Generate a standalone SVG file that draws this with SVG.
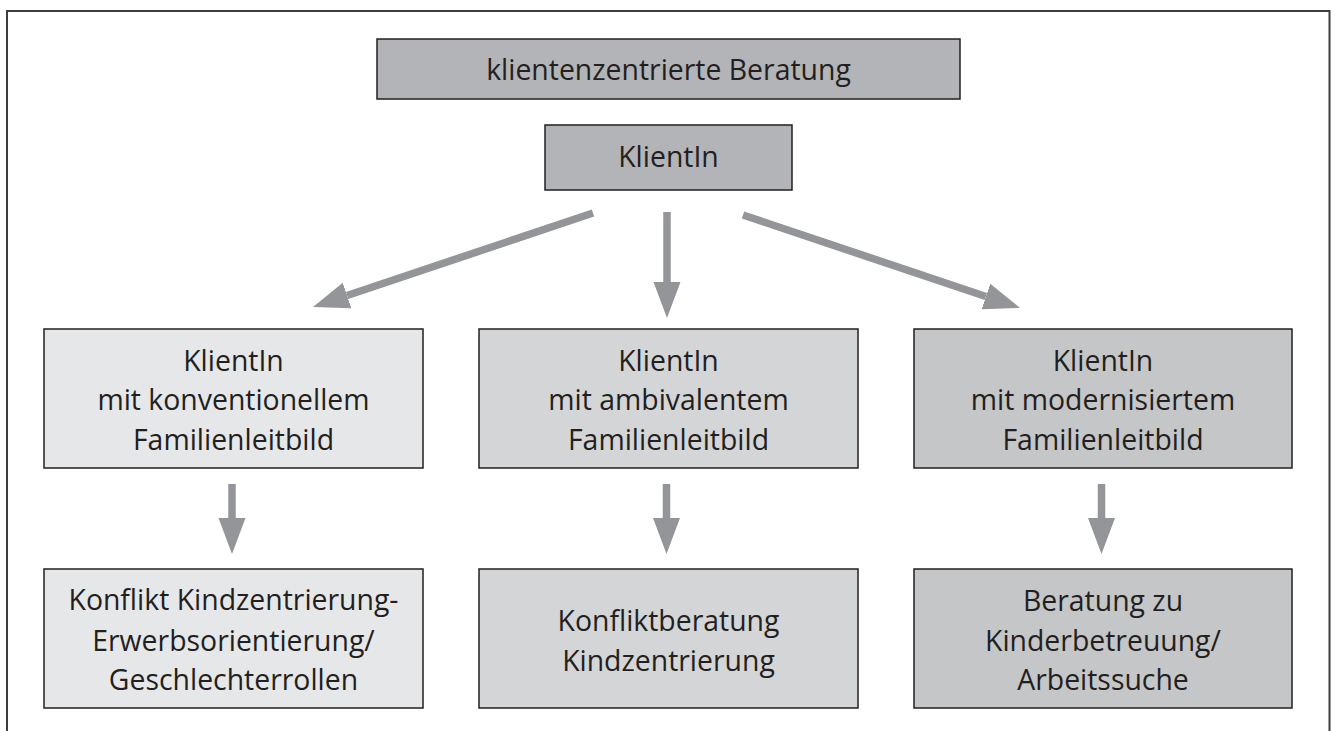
<svg xmlns="http://www.w3.org/2000/svg" width="1335" height="731" viewBox="0 0 1335 731">
<style>
  .box { stroke: #231f20; stroke-width: 1.5; }
  .dark { fill: #b3b4b7; }
  .c1 { fill: #e6e7e8; }
  .c2 { fill: #d4d5d7; }
  .c3 { fill: #c5c6c8; }
  text { font-family: "Open Sans", "Liberation Sans", sans-serif; font-size: 28.4px; fill: #231f20; text-anchor: middle; }
  .arrow { stroke: #939598; stroke-width: 7.5; fill: none; marker-end: url(#head); }
  .frame { stroke: #3d3d3f; stroke-width: 2; fill: none; }
</style>
<defs>
  <marker id="head" markerUnits="userSpaceOnUse" markerWidth="40" markerHeight="30" refX="0" refY="13.5" orient="auto" viewBox="0 0 40 30">
    <path d="M0,0 L36,13.5 L0,27 z" fill="#939598"/>
  </marker>
</defs>
<path class="frame" d="M7,731 V11 H1329.5 V731"/>
<g id="top">
  <rect class="box dark" x="377" y="39" width="583" height="60"/>
  <text x="668.5" y="80">klientenzentrierte Beratung</text>
</g>
<g id="klient">
  <rect class="box dark" x="545" y="125" width="247" height="65"/>
  <text x="668.5" y="167">KlientIn</text>
</g>
<g id="konv">
  <rect class="box c1" x="44" y="329" width="379" height="139"/>
  <text x="233.5" y="371">KlientIn</text>
  <text x="233.5" y="410">mit konventionellem</text>
  <text x="233.5" y="450">Familienleitbild</text>
</g>
<g id="ambi">
  <rect class="box c2" x="479" y="329" width="379" height="139"/>
  <text x="668.5" y="371">KlientIn</text>
  <text x="668.5" y="410">mit ambivalentem</text>
  <text x="668.5" y="450">Familienleitbild</text>
</g>
<g id="mod">
  <rect class="box c3" x="914" y="329" width="378" height="139"/>
  <text x="1103" y="371">KlientIn</text>
  <text x="1103" y="410">mit modernisiertem</text>
  <text x="1103" y="450">Familienleitbild</text>
</g>
<g id="konflikt1">
  <rect class="box c1" x="44" y="569" width="379" height="139"/>
  <text x="233.5" y="610">Konflikt Kindzentrierung-</text>
  <text x="233.5" y="651">Erwerbsorientierung/</text>
  <text x="233.5" y="690">Geschlechterrollen</text>
</g>
<g id="konflikt2">
  <rect class="box c2" x="479" y="569" width="379" height="139"/>
  <text x="668.5" y="631">Konfliktberatung</text>
  <text x="668.5" y="671">Kindzentrierung</text>
</g>
<g id="beratung">
  <rect class="box c3" x="914" y="569" width="378" height="139"/>
  <text x="1103" y="611">Beratung zu</text>
  <text x="1103" y="651">Kinderbetreuung/</text>
  <text x="1103" y="690">Arbeitssuche</text>
</g>
<g id="connectors">
  <line class="arrow" x1="593" y1="213" x2="347.1" y2="295.5"/>
  <line class="arrow" x1="667" y1="212" x2="667" y2="282"/>
  <line class="arrow" x1="743" y1="215" x2="985.9" y2="296.5"/>
  <line class="arrow" x1="232" y1="484" x2="232" y2="518"/>
  <line class="arrow" x1="666.5" y1="484" x2="666.5" y2="518"/>
  <line class="arrow" x1="1101.5" y1="484" x2="1101.5" y2="518"/>
</g>
</svg>
